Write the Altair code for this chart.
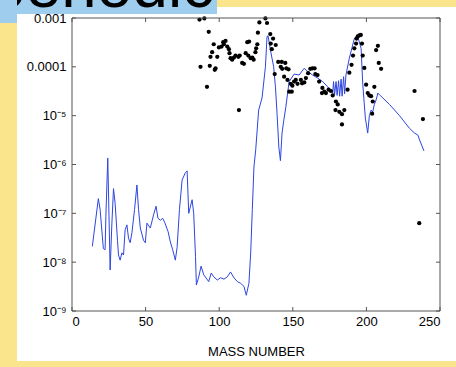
import altair as alt
import pandas as pd

# Calculated yield curve (blue line)
line_mass = [13.8, 17.9, 19.1, 21.3, 22.5, 23.0, 24.3, 25.9, 27.1, 28.2, 29.3, 30.9, 31.6, 32.7,
             33.9, 35.0, 36.1, 37.3, 38.4, 39.5, 40.7, 42.5, 44.1, 45.2, 46.4, 48.6, 49.8, 50.9,
             53.2, 55.4, 57.1, 58.4, 60.0, 61.6, 62.9, 65.3, 66.8, 68.4, 70.2, 71.4, 73.0, 74.8,
             77.0, 78.2, 79.3, 81.6, 82.7, 83.9, 84.5, 86.1, 87.7, 89.5, 92.9, 94.6, 96.3, 98.7,
             100.9, 103.2, 105.5, 107.7, 110.0, 112.3, 114.5, 116.8, 118.4, 120.2, 121.4, 122.5,
             123.6, 124.8, 126.8, 129.1, 131.4, 132.5, 133.2, 134.8, 137.0, 138.2, 139.3, 140.5,
             141.6, 142.7, 143.9, 145.2, 147.5, 150.9, 154.3, 157.7, 160.0, 163.4, 166.8, 170.3,
             173.7, 177.1, 177.7, 178.4, 179.4, 180.1, 181.1, 181.8, 182.8, 183.5, 184.5, 185.2,
             186.1, 188.4, 191.8, 194.1, 196.4, 197.5, 199.3, 200.9, 202.0, 203.2, 204.3, 205.4,
             206.6, 207.8, 209.3, 211.2, 215.7, 222.5, 229.3, 232.7, 235.0, 236.1, 239.1]
line_yield = [2.1e-8, 2.0e-7, 1.2e-7, 1.9e-8, 1.8e-8, 8.5e-8, 1.35e-6, 6.9e-9, 6.3e-8, 3.2e-7,
              1.6e-7, 2.8e-8, 1.4e-8, 1.1e-8, 1.55e-8, 1.4e-8, 4.6e-8, 5.8e-8, 3.1e-8, 2.5e-8,
              4.0e-8, 1.2e-7, 3.8e-7, 1.2e-7, 5.0e-8, 2.8e-8, 2.5e-8, 6.3e-8, 5.0e-8, 9.3e-8,
              1.4e-7, 7.9e-8, 7.2e-8, 7.9e-8, 6.6e-8, 4.2e-8, 2.6e-8, 1.8e-8, 1.1e-8, 2.0e-8,
              1.2e-7, 4.8e-7, 6.8e-7, 7.4e-7, 1.0e-7, 1.9e-7, 9.8e-8, 1.3e-8, 3.4e-9, 5.0e-9,
              8.3e-9, 5.5e-9, 4.0e-9, 6.0e-9, 5.0e-9, 4.3e-9, 4.8e-9, 4.5e-9, 5.0e-9, 6.3e-9,
              4.8e-9, 4.0e-9, 3.7e-9, 3.2e-9, 2.1e-9, 3.7e-9, 1.55e-8, 1.2e-7, 8.9e-7, 2.0e-6,
              1.3e-5, 2.3e-5, 1.0e-4, 4.2e-4, 4.3e-4, 2.2e-4, 1.0e-4, 3.9e-5, 1.1e-5, 2.3e-6,
              1.2e-6, 4.4e-6, 8.1e-6, 1.45e-5, 5.0e-5, 7.1e-5, 6.8e-5, 9.3e-5, 8.1e-5, 6.8e-5,
              5.9e-5, 5.0e-5, 3.9e-5, 2.9e-5, 5.0e-5, 2.7e-5, 5.0e-5, 2.6e-5, 5.2e-5, 2.5e-5,
              5.6e-5, 2.5e-5, 6.3e-5, 2.8e-5, 6.8e-5, 1.5e-4, 3.8e-4, 4.2e-4, 2.4e-4, 4.5e-5,
              8.9e-6, 4.4e-6, 1.0e-5, 1.3e-5, 1.2e-5, 1.7e-5, 2.1e-5, 2.9e-5, 2.6e-5, 2.3e-5,
              1.7e-5, 1.0e-5, 5.5e-6, 4.4e-6, 4.0e-6, 3.2e-6, 1.9e-6]

# Measured yields (black dots)
dot_mass = [86.6, 89.9, 92.9, 96.3, 95.2, 94.1, 87.3, 93.6, 97.5, 98.7, 99.8, 101.6, 102.7, 104.3,
            103.2, 105.5, 106.6, 107.0, 107.7, 108.8, 110.0, 111.1, 113.0, 113.9, 115.6, 116.8,
            118.0, 119.8, 121.4, 122.5, 123.4, 124.6, 119.1, 120.3, 125.1, 125.9, 97.0, 91.7,
            113.4, 126.3, 127.3, 131.4, 132.5, 134.7, 135.0, 136.6, 138.4, 135.7, 137.7, 140.1,
            142.5, 144.9, 141.8, 142.8, 145.6, 147.1, 144.1, 146.4, 148.6, 149.7, 147.6, 149.3,
            150.9, 152.0, 153.2, 155.5, 156.3, 157.8, 158.9, 160.4, 161.9, 163.4, 164.8, 165.3,
            166.8, 167.9, 170.1, 171.4, 172.5, 169.8, 174.3, 175.9, 177.1, 179.3, 180.5, 179.0,
            181.6, 183.4, 185.0, 183.4, 187.2, 188.4, 189.9, 190.9, 191.8, 193.0, 193.3, 194.1,
            195.2, 196.2, 197.0, 197.5, 198.6, 199.8, 200.9, 202.0, 203.2, 204.3, 203.9, 205.4,
            206.6, 207.8, 208.4, 210.0, 232.7, 238.4, 235.9]
dot_yield = [9.3e-4, 9.8e-4, 5.2e-4, 2.9e-4, 2.0e-4, 1.6e-4, 1.0e-4, 1.05e-4, 9.3e-5, 1.6e-4,
             2.5e-4, 2.6e-4, 3.2e-4, 3.4e-4, 2.9e-4, 2.6e-4, 2.3e-4, 1.9e-4, 1.5e-4, 1.4e-4,
             1.55e-4, 1.7e-4, 1.6e-4, 1.7e-4, 1.2e-4, 1.15e-4, 1.9e-4, 1.7e-4, 1.5e-4, 1.55e-4,
             1.4e-4, 2.0e-4, 3.2e-4, 3.3e-4, 2.4e-4, 2.9e-4, 8.7e-5, 3.9e-5, 1.3e-5, 5.0e-4,
             8.1e-4, 9.8e-4, 7.9e-4, 4.7e-4, 3.0e-4, 3.8e-4, 2.8e-4, 2.3e-4, 7.1e-5, 1.26e-4,
             1.26e-4, 1.2e-4, 1.0e-4, 9.1e-5, 9.3e-5, 8.9e-5, 6.3e-5, 5.4e-5, 4.5e-5, 4.1e-5,
             3.1e-5, 3.1e-5, 5.0e-5, 5.4e-5, 4.5e-5, 5.4e-5, 4.6e-5, 4.8e-5, 5.9e-5, 7.4e-5,
             9.1e-5, 9.3e-5, 9.3e-5, 7.1e-5, 6.8e-5, 5.0e-5, 3.7e-5, 3.1e-5, 2.9e-5, 2.9e-5,
             3.4e-5, 3.2e-5, 2.6e-5, 1.95e-5, 1.7e-5, 1.3e-5, 1.2e-5, 1.07e-5, 1.3e-5, 6.6e-6,
             3.4e-5, 7.6e-5, 1.1e-4, 1.7e-4, 2.4e-4, 3.0e-4, 3.8e-4, 4.2e-4, 4.4e-4, 4.5e-4,
             3.0e-4, 1.7e-4, 9.5e-5, 4.3e-5, 2.9e-5, 2.6e-5, 2.5e-5, 1.95e-5, 1.1e-5, 3.9e-5,
             2.2e-4, 2.7e-4, 1.2e-4, 9.1e-5, 3.2e-5, 8.5e-6, 6.3e-8]

x_ticks = [0, 50, 100, 150, 200, 250]
y_ticks = [1e-9, 1e-8, 1e-7, 1e-6, 1e-5, 1e-4, 1e-3]

W, H = 368, 293
FONT = "Liberation Sans"
FRAME = "#555555"
BLUE_BAND = "#9ecdee"

line_df = pd.DataFrame({"mass": line_mass, "yield": line_yield})
dot_df = pd.DataFrame({"mass": dot_mass, "yield": dot_yield})
xt_df = pd.DataFrame({"mass": x_ticks})
yt_df = pd.DataFrame({"yield": y_ticks})
one = pd.DataFrame({"k": [0]})

x_scale = alt.Scale(domain=[0, 250], nice=False)
y_scale = alt.Scale(type="log", domain=[1e-9, 1e-3], nice=False)

sup = "['⁰','¹','²','³','⁴','⁵','⁶','⁷','⁸','⁹']"
y_label_expr = (
    "datum.value >= 0.00009 ? format(datum.value, '') : "
    "'10⁻' + " + sup + "[round(-log(datum.value) / LN10)]"
)


def box(color, x0, x1, y0, y1):
    return alt.Chart(one).mark_rect(color=color).encode(
        x=alt.value(x0), x2=alt.value(x1), y=alt.value(y0), y2=alt.value(y1)
    )


# slide backdrop: white panel, blue title strip and the heading running off the top
panel = box("white", -55, W + 16, -11, H + 50)
banner = box(BLUE_BAND, -72, 145, -18, -4)
banner_text = alt.Chart(one).mark_text(
    text="periodic", font=FONT, fontSize=64, align="left", baseline="alphabetic", color="black"
).encode(x=alt.value(-82), y=alt.value(-11))
under_banner = box("white", -55, 145, -4, 6)
banner_side = box(BLUE_BAND, -72, -55, -18, 5)

curve = alt.Chart(line_df).mark_line(color="#2d45e2", strokeWidth=1).encode(
    x=alt.X("mass:Q", scale=x_scale,
            axis=alt.Axis(values=x_ticks, title="MASS NUMBER", domain=False, ticks=False,
                          grid=False, labelFont=FONT, labelFontSize=13, labelColor="black",
                          labelPadding=4, titleFont=FONT, titleFontSize=13,
                          titleFontWeight="normal", titleColor="black", titlePadding=17,
                          zindex=1)),
    y=alt.Y("yield:Q", scale=y_scale,
            axis=alt.Axis(values=y_ticks, title=None, domain=False, ticks=False, grid=False,
                          labelFont=FONT, labelFontSize=13, labelColor="black",
                          labelPadding=6, labelExpr=y_label_expr, zindex=1)),
)

dots = alt.Chart(dot_df).mark_circle(color="black", size=18, opacity=1).encode(
    x=alt.X("mass:Q", scale=x_scale), y=alt.Y("yield:Q", scale=y_scale)
)

# inward tick marks on all four sides
xt_bot = alt.Chart(xt_df).mark_rule(color=FRAME, strokeWidth=1).encode(
    x=alt.X("mass:Q", scale=x_scale), y=alt.value(H), y2=alt.value(H - 4)
)
xt_top = alt.Chart(xt_df).mark_rule(color=FRAME, strokeWidth=1).encode(
    x=alt.X("mass:Q", scale=x_scale), y=alt.value(0), y2=alt.value(4)
)
yt_left = alt.Chart(yt_df).mark_rule(color=FRAME, strokeWidth=1).encode(
    y=alt.Y("yield:Q", scale=y_scale), x=alt.value(0), x2=alt.value(4)
)
yt_right = alt.Chart(yt_df).mark_rule(color=FRAME, strokeWidth=1).encode(
    y=alt.Y("yield:Q", scale=y_scale), x=alt.value(W), x2=alt.value(W - 4)
)
frame = alt.Chart(one).mark_rect(fillOpacity=0, stroke=FRAME, strokeWidth=1).encode(
    x=alt.value(0), x2=alt.value(W), y=alt.value(0), y2=alt.value(H)
)

chart = alt.layer(
    panel, banner, banner_text, under_banner, banner_side, curve, dots,
    xt_bot, xt_top, yt_left, yt_right, frame
).properties(
    width=W, height=H,
    padding={"left": 72, "top": 18, "right": 16, "bottom": 56},
    autosize=alt.AutoSizeParams(type="none"),
    background="#fbe58c",
).configure_view(stroke=None)

chart.save("out.html", embed_options={"renderer": "svg", "actions": False})
